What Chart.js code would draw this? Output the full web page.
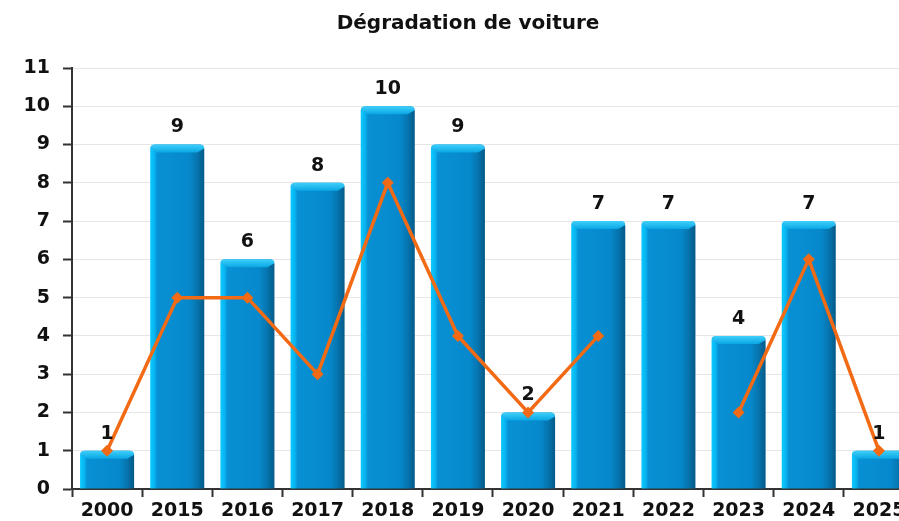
<!DOCTYPE html>
<html>
<head>
<meta charset="utf-8">
<script src="https://cdn.jsdelivr.net/npm/chart.js@4.4.0/dist/chart.umd.min.js"></script>
<style>
  body { margin: 0; overflow: hidden; background: #fff; }
  #wrap { width: 936px; height: 521px; }
</style>
</head>
<body>
<div id="wrap"><canvas id="chart"></canvas></div>
<script>
    const years = ['2000', '2015', '2016', '2017', '2018', '2019', '2020', '2021', '2022', '2023', '2024', '2025'];
    const barValues = [1, 9, 6, 8, 10, 9, 2, 7, 7, 4, 7, 1];
    const lineValues = [1, 5, 5, 3, 8, 4, 2, 4, null, 2, 6, 1];
    const yMax = 11;

    const font = 'DejaVu Sans';

    // degrade horizontal pour chaque barre (effet cylindre)
    function barGradient(ctx) {
      const chart = ctx.chart;
      const xs = chart.scales.x;
      if (!xs || ctx.dataIndex === undefined) return '#0088cc';
      const cx = xs.getPixelForValue(ctx.dataIndex);
      const w = (xs.width / years.length) * 0.77;
      if (!isFinite(cx) || !isFinite(w) || w <= 0) return '#0088cc';
      const g = chart.ctx.createLinearGradient(cx - w / 2, 0, cx + w / 2, 0);
      g.addColorStop(0, '#0ccaff');
      g.addColorStop(0.08, '#08b4f0');
      g.addColorStop(0.13, '#0890d4');
      g.addColorStop(0.72, '#0689cc');
      g.addColorStop(0.86, '#0676b0');
      g.addColorStop(1, '#045a88');
      return g;
    }

    // capot clair en haut des barres
    const barCap = {
      id: 'barCap',
      afterDatasetDraw(chart, args) {
        if (args.meta.type !== 'bar') return;
        const c = chart.ctx;
        args.meta.data.forEach(bar => {
          const p = bar.getProps(['x', 'y', 'width'], true);
          const l = p.x - p.width / 2, r = p.x + p.width / 2, t = p.y, h = 8;
          c.save();
          const g = c.createLinearGradient(0, t, 0, t + h);
          g.addColorStop(0, '#3fd0fb');
          g.addColorStop(1, '#0aa6e4');
          c.fillStyle = g;
          c.beginPath();
          c.moveTo(l + 4, t);
          c.lineTo(r - 4, t);
          c.quadraticCurveTo(r, t, r, t + 4);
          c.lineTo(r - 7, t + h);
          c.lineTo(l + 7, t + h);
          c.lineTo(l, t + 4);
          c.quadraticCurveTo(l, t, l + 4, t);
          c.closePath();
          c.fill();
          c.restore();
        });
      }
    };

    // valeurs au-dessus des barres
    const barLabels = {
      id: 'barLabels',
      afterDatasetsDraw(chart) {
        const c = chart.ctx;
        const meta = chart.getDatasetMeta(1);
        c.save();
        c.font = 'bold 19px "' + font + '"';
        c.fillStyle = '#111';
        c.textAlign = 'center';
        c.textBaseline = 'middle';
        meta.data.forEach((bar, i) => {
          c.fillText(String(barValues[i]), bar.x, bar.y - 17);
        });
        c.restore();
      }
    };

    new Chart(document.getElementById('chart'), {
      type: 'bar',
      data: {
        labels: years,
        datasets: [
          {
            type: 'line',
            data: lineValues,
            order: 0,
            borderColor: '#f26a14',
            backgroundColor: '#f26a14',
            borderWidth: 3.5,
            pointStyle: 'rectRot',
            pointRadius: 6,
            pointBorderWidth: 0,
            spanGaps: false,
            tension: 0
          },
          {
            type: 'bar',
            data: barValues,
            order: 1,
            backgroundColor: barGradient,
            borderRadius: { topLeft: 5, topRight: 5 },
            barPercentage: 0.77,
            categoryPercentage: 1
          }
        ]
      },
      options: {
        responsive: true,
        maintainAspectRatio: false,
        animation: false,
        layout: { padding: { left: 22, right: 22, bottom: 0 } },
        plugins: {
          legend: { display: false },
          tooltip: { enabled: false },
          title: {
            display: true,
            text: 'Dégradation de voiture',
            color: '#111',
            font: { family: font, size: 20, weight: 'bold' },
            padding: { top: 12, bottom: 32 }
          }
        },
        scales: {
          x: {
            offset: true,
            afterFit(scale) { scale.height = 32; },
            grid: { offset: true, drawOnChartArea: false, tickLength: 8, tickColor: '#333', tickWidth: 2 },
            border: { color: '#333', width: 2 },
            ticks: { color: '#111', font: { family: font, size: 19, weight: 'bold' }, padding: 3, maxRotation: 0, autoSkip: false }
          },
          y: {
            min: 0,
            max: yMax,
            afterFit(scale) { scale.width = 50; },
            grid: { color: '#e6e6e6', tickColor: '#333', tickLength: 9, tickWidth: 2 },
            border: { color: '#333', width: 2 },
            ticks: { stepSize: 1, color: '#111', font: { family: font, size: 19, weight: 'bold' }, padding: 13 }
          }
        }
      },
      plugins: [barCap, barLabels]
    });
</script>
</body>
</html>
